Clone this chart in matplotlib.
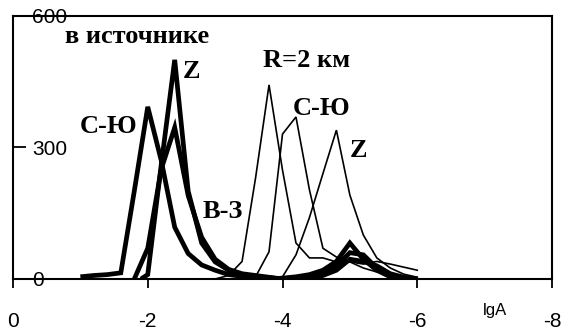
import matplotlib
matplotlib.use("Agg")
import matplotlib.pyplot as plt

# bins of lgA
x_src_ns = [-1.0, -1.2, -1.4, -1.6, -1.8, -2.0, -2.2, -2.4, -2.6, -2.8, -3.0, -3.2, -3.4, -3.6, -3.8, -4.0]
y_src_ns = [5, 8, 10, 14, 200, 392, 270, 118, 58, 32, 20, 10, 6, 4, 2, 0]

x_src_z = [-1.9, -2.0, -2.2, -2.4, -2.6, -2.8, -3.0, -3.2, -3.4, -3.6, -3.8, -4.0]
y_src_z = [0, 10, 260, 499, 200, 82, 39, 20, 9, 5, 3, 0]

x_src_ew = [-1.8, -2.0, -2.2, -2.4, -2.6, -2.8, -3.0, -3.2, -3.4, -3.6, -3.8, -4.0]
y_src_ew = [0, 70, 250, 345, 190, 95, 45, 22, 12, 8, 4, 0]

# R = 2 km
x_r2_a = [-3.0, -3.2, -3.4, -3.6, -3.8, -4.0, -4.2, -4.4, -4.6, -4.8, -5.0, -5.2, -5.4, -5.6, -5.8, -6.0]
y_r2_a = [0, 8, 40, 230, 442, 248, 82, 48, 48, 39, 39, 34, 40, 34, 27, 20]

x_r2_ns = [-3.4, -3.6, -3.8, -4.0, -4.2, -4.4, -4.6, -4.8, -5.0, -5.2, -5.4, -5.6, -5.8, -6.0]
y_r2_ns = [0, 5, 62, 330, 369, 203, 70, 50, 39, 25, 16, 9, 4, 2]

x_r2_z = [-3.8, -4.0, -4.2, -4.4, -4.6, -4.8, -5.0, -5.2, -5.4, -5.6, -5.8, -6.0]
y_r2_z = [0, 5, 55, 140, 240, 339, 191, 100, 48, 25, 11, 4]

x_low = [-3.8, -4.0, -4.2, -4.4, -4.6, -4.8, -5.0, -5.2, -5.4, -5.6, -5.8, -6.0]
y_low_1 = [0, 2, 5, 10, 20, 40, 82, 45, 20, 5, 2, 0]
y_low_2 = [0, 0, 2, 5, 12, 30, 60, 55, 25, 8, 2, 0]
y_low_3 = [0, 0, 0, 3, 8, 20, 45, 40, 30, 12, 4, 0]

xticks = [0, -2, -4, -6, -8]
yticks = [0, 300, 600]

W, H = 564, 334
fig = plt.figure(figsize=(W / 100, H / 100), dpi=100)
ax = fig.add_axes([13 / W, 1 - 279 / H, (552 - 13) / W, (279 - 15.5) / H])

thick = dict(color="black", lw=3.4, solid_joinstyle="miter", solid_capstyle="butt")
thin = dict(color="black", lw=1.2, solid_joinstyle="miter")

ax.plot(x_src_ns, y_src_ns, **thick)
ax.plot(x_src_z, y_src_z, **thick)
ax.plot(x_src_ew, y_src_ew, **thick)
for yy in (y_low_1, y_low_2, y_low_3):
    ax.plot(x_low, yy, **thick)

ax.plot(x_r2_a, y_r2_a, **thin)
ax.plot(x_r2_ns, y_r2_ns, **thin)
ax.plot(x_r2_z, y_r2_z, **thin)

ax.set_xlim(0, -8)
ax.set_ylim(0, 600)
ax.set_xticks(xticks)
ax.set_xticklabels([str(v) for v in xticks])
ax.set_yticks(yticks)
ax.set_yticklabels([str(v) for v in yticks])

for sp in ax.spines.values():
    sp.set_linewidth(1.5)

sans = "Liberation Sans"
ax.tick_params(axis="x", direction="out", length=6.5, width=1.3, pad=17,
               labelsize=15)
ax.tick_params(axis="y", direction="in", length=9, width=1.3, pad=-14,
               labelsize=15)
for lab in ax.get_yticklabels():
    lab.set_horizontalalignment("left")
for lab in ax.get_xticklabels() + ax.get_yticklabels():
    lab.set_fontfamily(sans)

ax.text(495 / W, 1 - 311 / H, "lgA", transform=fig.transFigure, ha="center",
        va="center", fontsize=12, family=sans)

serif = dict(family="Liberation Serif", fontweight="bold", fontsize=19,
             ha="left", va="baseline", transform=fig.transFigure)
labels = [
    ("в источнике", 65, 43),
    ("Z", 183, 78),
    ("С-Ю", 80, 133),
    ("В-З", 203, 218),
    ("R=2 км", 263, 67),
    ("С-Ю", 293, 115),
    ("Z", 350, 157),
]
for txt, px, py in labels:
    fig.text(px / W, 1 - py / H, txt, **serif)

fig.savefig("out.png", dpi=100)
